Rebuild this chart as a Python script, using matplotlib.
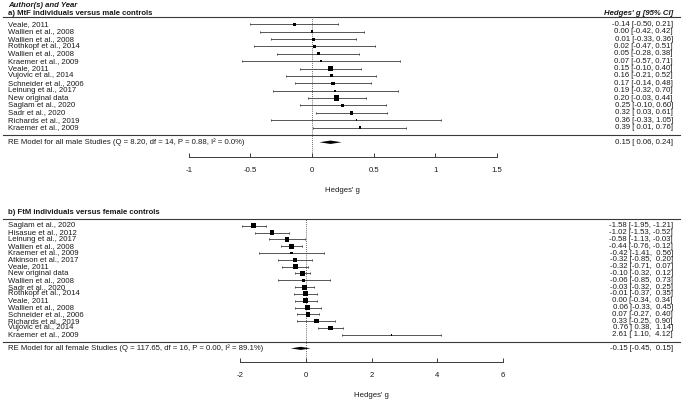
"""Forest plots of Hedges' g for MtF / FtM groups (two panels)."""

import matplotlib

matplotlib.use("Agg")
import matplotlib.pyplot as plt
import matplotlib.transforms as mtransforms
import numpy as np

plt.rcParams["font.family"] = ["Liberation Sans", "DejaVu Sans"]

# ---- panel a: MtF vs male controls ----
male_studies = [
    "Veale, 2011", "Wallien et al., 2008", "Wallien et al., 2008",
    "Rothkopf et al., 2014", "Wallien et al., 2008", "Kraemer et al., 2009",
    "Veale, 2011", "Vujovic et al., 2014", "Schneider et al., 2006",
    "Leinung et al., 2017", "New original data", "Saglam et al., 2020",
    "Sadr et al., 2020", "Richards et al., 2019", "Kraemer et al., 2009",
]
male_est = [-0.14, 0.00, 0.01, 0.02, 0.05, 0.07, 0.15, 0.16, 0.17, 0.19, 0.20, 0.25, 0.32, 0.36, 0.39]
male_lo = [-0.50, -0.42, -0.33, -0.47, -0.28, -0.57, -0.10, -0.21, -0.14, -0.32, -0.03, -0.10, 0.03, -0.33, 0.01]
male_hi = [0.21, 0.42, 0.36, 0.51, 0.38, 0.71, 0.40, 0.52, 0.48, 0.70, 0.44, 0.60, 0.61, 1.05, 0.76]
male_summary = [0.15, 0.06, 0.24]
male_title = "a) MtF individuals versus male controls"
male_model = "RE Model for all male Studies (Q = 8.20, df = 14, P = 0.88, I² = 0.0%)"
male_ticks = [-1, -0.5, 0, 0.5, 1, 1.5]
male_tick_labels = ["-1", "-0.5", "0", "0.5", "1", "1.5"]

# ---- panel b: FtM vs female controls ----
female_studies = [
    "Saglam et al., 2020", "Hisasue et al., 2012", "Leinung et al., 2017",
    "Wallien et al., 2008", "Kraemer et al., 2009", "Atkinson et al., 2017",
    "Veale, 2011", "New original data", "Wallien et al., 2008",
    "Sadr et al., 2020", "Rothkopf et al., 2014", "Veale, 2011",
    "Wallien et al., 2008", "Schneider et al., 2006", "Richards et al., 2019",
    "Vujovic et al., 2014", "Kraemer et al., 2009",
]
female_est = [-1.58, -1.02, -0.58, -0.44, -0.42, -0.32, -0.32, -0.10, -0.06, -0.03, -0.01, 0.00, 0.06, 0.07, 0.33, 0.76, 2.61]
female_lo = [-1.95, -1.53, -1.13, -0.76, -1.41, -0.85, -0.71, -0.32, -0.85, -0.32, -0.37, -0.34, -0.33, -0.27, -0.25, 0.38, 1.10]
female_hi = [-1.21, -0.52, -0.03, -0.12, 0.56, 0.20, 0.07, 0.12, 0.73, 0.25, 0.35, 0.34, 0.45, 0.40, 0.90, 1.14, 4.12]
female_summary = [-0.15, -0.45, 0.15]
female_title = "b) FtM individuals versus female controls"
female_model = "RE Model for all female Studies (Q = 117.65, df = 16, P = 0.00, I² = 89.1%)"
female_ticks = [-2, 0, 2, 4, 6]
female_tick_labels = ["-2", "0", "2", "4", "6"]

W, H = 682, 400
FS = 5.6
INK = "#1a1a1a"
LINE = "#3a3a3a"


def re_weights(est, lo, hi):
    """Random-effects (DerSimonian-Laird) weights from the CIs."""
    est = np.asarray(est)
    vi = ((np.asarray(hi) - np.asarray(lo)) / 3.92) ** 2
    w = 1.0 / vi
    mu = np.sum(w * est) / np.sum(w)
    q = np.sum(w * (est - mu) ** 2)
    c = np.sum(w) - np.sum(w ** 2) / np.sum(w)
    tau2 = max(0.0, (q - (len(est) - 1)) / c)
    return 1.0 / (vi + tau2)


def ci_labels(est, lo, hi):
    cols = [[f"{v:.2f}" for v in col] for col in (est, lo, hi)]
    widths = [max(len(s) for s in col) for col in cols]
    out = []
    for e, l, h in zip(*cols):
        out.append(f"{e.rjust(widths[0])} [{l.rjust(widths[1])}, {h.rjust(widths[2])}]")
    return out


def panel(fig, top_px, axis_px, zero_px, unit_px, row_px, studies, est, lo, hi,
          summary, title, model, ticks, tick_labels, title_off, header=False):
    k = len(studies)
    ax = fig.add_axes([0, 1 - axis_px / H, 1, (axis_px - top_px) / H])
    ax.set_xlim(-zero_px / unit_px, (W - zero_px) / unit_px)
    ax.set_ylim(-3, -3 + (axis_px - top_px) / row_px)
    ax.patch.set_alpha(0)
    for side in ("top", "left", "right"):
        ax.spines[side].set_visible(False)
    ax.spines["bottom"].set_bounds(ticks[0], ticks[-1])
    ax.spines["bottom"].set_linewidth(0.7)
    ax.spines["bottom"].set_color(LINE)
    ax.set_yticks([])
    ax.set_xticks(ticks)
    ax.set_xticklabels(tick_labels)
    ax.tick_params(axis="x", direction="in", length=3, width=0.7, color=LINE,
                   pad=7.5, labelsize=FS, labelcolor=INK)

    rows = np.arange(k, 0, -1)
    trans = mtransforms.blended_transform_factory(ax.transAxes, ax.transData)
    xl, xr = 8 / W, 673 / W

    # separators and reference line
    for y in (k + 1, 0):
        ax.axhline(y, xmin=3 / W, xmax=680 / W, color=LINE, lw=0.8)
    ax.vlines(0, -3, k + 1, colors=LINE, lw=0.6, linestyles=(0, (1, 1.5)))

    # study CIs and squares
    ax.hlines(rows, lo, hi, colors=LINE, lw=0.6)
    ax.plot(lo, rows, "|", ms=2.0, mew=0.6, color=LINE)
    ax.plot(hi, rows, "|", ms=2.0, mew=0.6, color=LINE)
    wi = re_weights(est, lo, hi)
    psize = (wi - wi.min()) / (wi.max() - wi.min()) + 0.5
    ax.scatter(est, rows, s=(2.5 * psize) ** 2, marker="s", c="black", linewidths=0, zorder=3)

    # summary diamond
    m, mlo, mhi = summary
    h = 0.23
    ax.fill([mlo, m, mhi, m], [-1, -1 + h, -1, -1 - h], color="black", lw=0)

    labels = ci_labels(est + [m], lo + [mlo], hi + [mhi])
    for r, name, lab in zip(rows, studies, labels[:-1]):
        ax.text(xl, r, name, transform=trans, ha="left", va="center", fontsize=FS, color=INK)
        ax.text(xr, r, lab, transform=trans, ha="right", va="center", fontsize=FS, color=INK)
    ax.text(xl, -1, model, transform=trans, ha="left", va="center", fontsize=FS, color=INK)
    ax.text(xr, -1, labels[-1], transform=trans, ha="right", va="center", fontsize=FS, color=INK)

    ax.text(xl, k + 1 + title_off, title, transform=trans, ha="left", va="center",
            fontsize=FS, fontweight="bold", color=INK)
    if header:
        ax.text(xl, k + 2.6, "Author(s) and Year", transform=trans, ha="left", va="center",
                fontsize=FS, fontweight="bold", fontstyle="italic", color=INK)
        ax.text(xr, k + 1 + title_off, "Hedges' g [95% CI]", transform=trans, ha="right",
                va="center", fontsize=FS, fontweight="bold", fontstyle="italic", color=INK)

    mid = (ticks[0] + ticks[-1]) / 2
    ax.annotate("Hedges' g", xy=(mid, -3), xycoords="data", xytext=(0, -24),
                textcoords="offset points", ha="center", va="center", fontsize=FS, color=INK)
    return ax


fig = plt.figure(figsize=(W / 100, H / 100), dpi=100)
fig.patch.set_facecolor("white")

panel(fig, 0, 157, 312, 123.3, 7.37, male_studies, male_est, male_lo, male_hi,
      male_summary, male_title, male_model, male_ticks, male_tick_labels,
      title_off=0.5, header=True)
panel(fig, 200, 362, 305.7, 32.9, 6.81, female_studies, female_est, female_lo, female_hi,
      female_summary, female_title, female_model, female_ticks, female_tick_labels,
      title_off=0.92)

fig.savefig("out.png", dpi=100)
plt.close(fig)
